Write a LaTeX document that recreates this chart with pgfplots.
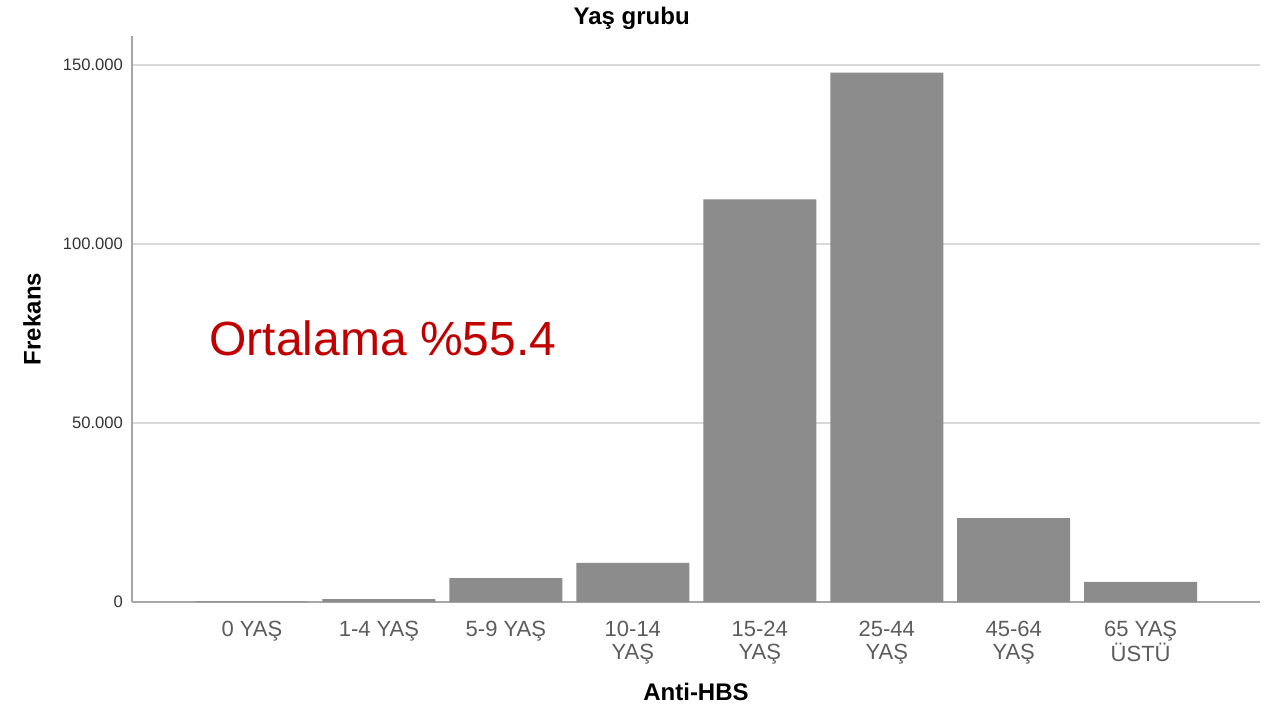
\documentclass[border=0pt]{standalone}
\usepackage{pgfplots}
\pgfplotsset{compat=1.18}
\usepackage{fontspec}
\setmainfont{Liberation Sans}
\definecolor{barfill}{HTML}{8C8C8C}
\definecolor{gridc}{HTML}{D9D9D9}
\definecolor{axisc}{HTML}{A6A6A6}
\definecolor{tickc}{HTML}{333333}
\definecolor{redtxt}{HTML}{C00000}

\begin{document}
\begin{tikzpicture}
\useasboundingbox (-66pt,-55.5pt) rectangle (571pt,301pt);
\begin{axis}[
    scale only axis,
    width=564pt,
    height=283pt,
    ybar,
    bar width=56.5pt,
    xmin=-0.945, xmax=7.94,
    ymin=0, ymax=158000,
    xtick=data,
    xticklabels={0 YAŞ,1-4 YAŞ,5-9 YAŞ,10-14\\YAŞ,15-24\\YAŞ,25-44\\YAŞ,45-64\\YAŞ,65 YAŞ\\ÜSTÜ},
    ytick={0,50000,100000,150000},
    yticklabels={0,50.000,100.000,150.000},
    scaled y ticks=false,
    axis x line=bottom,
    axis y line=left,
    axis line style={-, draw=axisc, line width=1pt},
    major tick length=0pt,
    ymajorgrids,
    grid style={draw=gridc, line width=1pt},
    xticklabel style={font=\fontsize{11}{11.5}\selectfont, text=tickc!80, align=center, yshift=-6pt},
    yticklabel style={font=\fontsize{8.3}{10}\selectfont, text=tickc, xshift=-1pt},
    title={Yaş grubu},
    title style={font=\bfseries\fontsize{12}{14}\selectfont, at={(axis description cs:0.443,1)}, anchor=center, yshift=3pt},
    xlabel={Anti-HBS},
    xlabel style={font=\bfseries\fontsize{12}{14}\selectfont, at={(axis description cs:0.5,-0.159)}, anchor=center},
    ylabel={Frekans},
    ylabel style={font=\bfseries\fontsize{12}{14}\selectfont, at={(axis description cs:-0.0887,0.5)}, anchor=center},
    clip=false,
]
\addplot[fill=barfill, draw=none] coordinates {
    (0,150) (1,800) (2,6700) (3,10900) (4,112400) (5,147800) (6,23400) (7,5600)
};
\node[text=redtxt, font=\fontsize{24}{28}\selectfont] at (rel axis cs:0.2225,0.466) {Ortalama \%55.4};
\end{axis}
\end{tikzpicture}
\end{document}
